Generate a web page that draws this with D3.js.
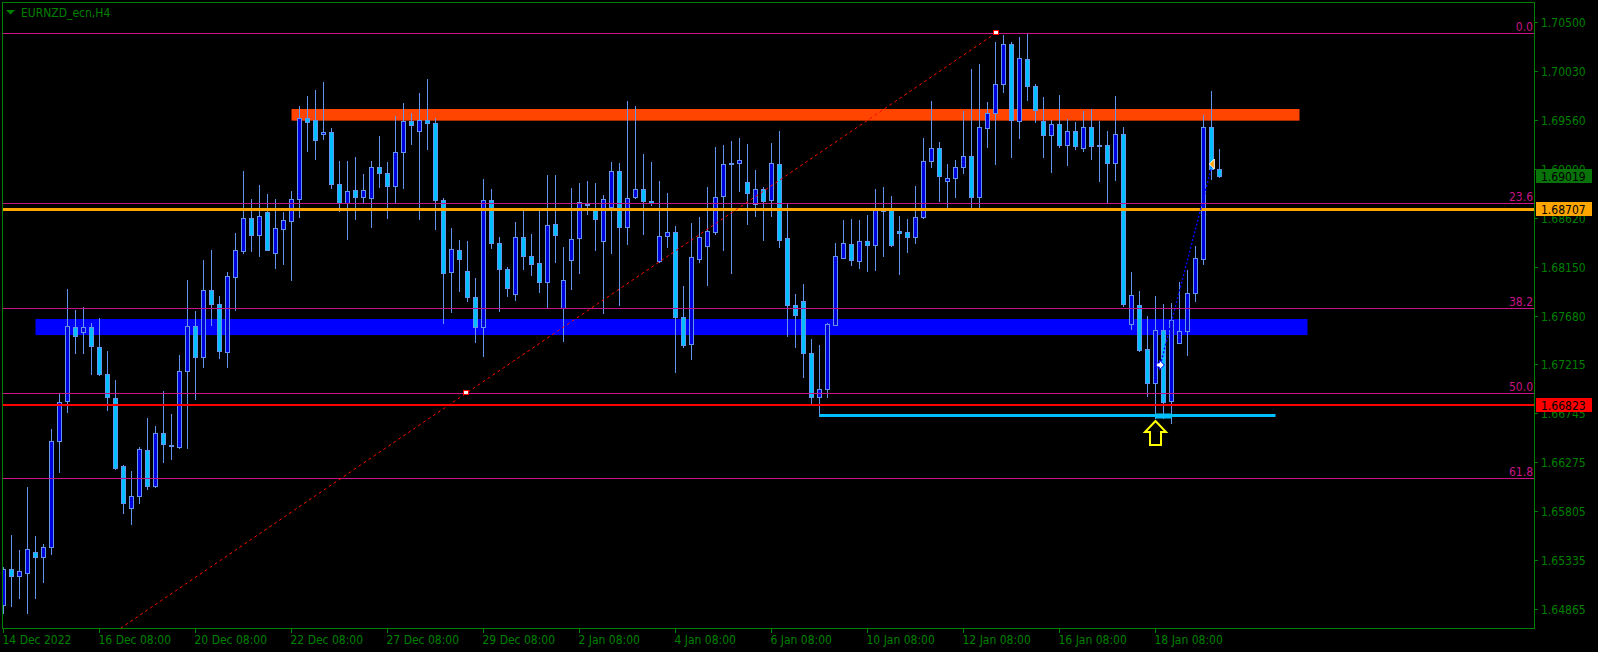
<!DOCTYPE html>
<html><head><meta charset="utf-8">
<script src="https://cdn.jsdelivr.net/npm/d3@7"></script>
<style>
html,body{margin:0;padding:0;background:#000;overflow:hidden}
svg{display:block}
text{font-family:"DejaVu Sans Condensed","DejaVu Sans",sans-serif;font-stretch:condensed;font-size:12px}
</style></head><body>
<svg id="c" width="1598" height="652"></svg>
<script>
const symbolTitle = "EURNZD_ecn,H4";
const opens = [1.64903,1.65248,1.65187,1.65216,1.65411,1.65364,1.65459,1.66476,1.66860,1.67569,1.67521,1.67569,1.67377,1.67118,1.66888,1.66236,1.65833,1.65949,1.66390,1.66044,
1.66553,1.66438,1.66418,1.67147,1.67579,1.67282,1.67924,1.67790,1.67329,1.68055,1.68304,1.68615,1.68457,1.68672,1.68279,1.68515,1.68592,1.68797,1.69574,1.69554,
1.69420,1.69439,1.68941,1.68764,1.68883,1.68816,1.68806,1.69104,1.69046,1.68921,1.69247,1.69545,1.69449,1.69554,1.69526,1.68787,1.68097,1.68308,1.68106,1.67857,
1.67569,1.68787,1.68380,1.68131,1.67891,1.68432,1.68250,1.68183,1.68007,1.68557,1.67757,1.68212,1.68423,1.68747,1.68707,1.68400,1.68726,1.69065,1.68528,1.68816,
1.68893,1.68778,1.68202,1.68442,1.68480,1.67671,1.67412,1.68227,1.68346,1.68486,1.68826,1.69132,1.69142,1.68960,1.68749,1.68893,1.68787,1.69132,1.68423,1.67786,
1.67819,1.67320,1.66904,1.66975,1.67594,1.68237,1.68365,1.68202,1.68394,1.68356,1.68701,1.68701,1.68490,1.68480,1.68432,1.68624,1.69161,1.69286,1.68969,1.68998,
1.69104,1.69209,1.68822,1.69478,1.69622,1.69900,1.70283,1.69545,1.70139,1.69880,1.69545,1.69411,1.69516,1.69315,1.69449,1.69286,1.69487,1.69305,1.69315,1.69142,
1.69420,1.67598,1.67780,1.67358,1.67038,1.67540,1.66865,1.67422,1.67531,1.67895,1.68227,1.69487,1.69087];
const highs = [1.65273,1.65577,1.65434,1.66038,1.65568,1.65488,1.66591,1.66930,1.67934,1.67735,1.67764,1.67608,1.67656,1.67342,1.67061,1.66246,1.66191,1.66421,1.66697,1.66620,
1.66955,1.66735,1.67301,1.68020,1.67723,1.68212,1.68311,1.67867,1.68097,1.68471,1.69068,1.68800,1.68934,1.68848,1.68800,1.68675,1.68876,1.69689,1.69785,1.69842,
1.69919,1.69478,1.69161,1.69161,1.69200,1.69037,1.69161,1.69401,1.69152,1.69593,1.69717,1.69622,1.69813,1.69950,1.69574,1.68806,1.68519,1.68404,1.68394,1.68039,
1.68991,1.68896,1.68432,1.68150,1.68576,1.68701,1.68467,1.68697,1.69030,1.69030,1.68342,1.68905,1.68953,1.68972,1.68953,1.68838,1.69152,1.69142,1.69737,1.69689,
1.69228,1.69152,1.68969,1.68854,1.68538,1.67962,1.68567,1.68624,1.68912,1.69295,1.69315,1.69353,1.69382,1.69324,1.69075,1.68912,1.69334,1.69449,1.68755,1.67886,
1.67982,1.67454,1.67399,1.67608,1.68375,1.68595,1.68605,1.68595,1.68643,1.68893,1.68912,1.68826,1.68634,1.68605,1.68921,1.69382,1.69737,1.69343,1.69132,1.69171,
1.69641,1.70043,1.70094,1.69727,1.70305,1.70372,1.70305,1.70353,1.70382,1.69900,1.69775,1.69554,1.69794,1.69564,1.69535,1.69641,1.69660,1.69545,1.69449,1.69785,
1.69487,1.68097,1.67914,1.67675,1.67867,1.67790,1.67799,1.68001,1.68119,1.68349,1.69602,1.69835,1.69276];
const lows = [1.64827,1.64896,1.64976,1.64827,1.64976,1.65130,1.65392,1.66184,1.66760,1.67326,1.67326,1.67124,1.67115,1.66779,1.66213,1.65791,1.65686,1.65887,1.66021,1.66038,
1.66280,1.66303,1.66411,1.66415,1.66885,1.67191,1.67594,1.67278,1.67191,1.67738,1.68285,1.68304,1.68256,1.68306,1.68141,1.68179,1.68026,1.68627,1.69263,1.69186,
1.69378,1.68902,1.68687,1.68419,1.68611,1.68758,1.68534,1.68918,1.68620,1.68774,1.68908,1.69330,1.68611,1.69282,1.68515,1.67613,1.67719,1.67920,1.67824,1.67431,
1.67297,1.68333,1.67728,1.67872,1.67834,1.68131,1.68074,1.67911,1.67767,1.68198,1.67441,1.67939,1.68093,1.68659,1.68313,1.67709,1.68285,1.67786,1.68371,1.68806,
1.68467,1.68745,1.68195,1.68342,1.67143,1.67383,1.67268,1.68198,1.67978,1.68467,1.68313,1.68093,1.68879,1.68563,1.68640,1.68409,1.68640,1.68342,1.67489,1.67383,
1.67096,1.66840,1.66722,1.66904,1.67591,1.68234,1.68170,1.68141,1.68112,1.68122,1.68256,1.68352,1.68083,1.68294,1.68380,1.68615,1.69104,1.68778,1.68691,1.68816,
1.69046,1.68726,1.68726,1.69301,1.69138,1.69829,1.69205,1.69388,1.69752,1.69535,1.69200,1.69061,1.69301,1.69129,1.69276,1.69263,1.69186,1.68975,1.68764,1.68985,
1.67774,1.67550,1.67345,1.66913,1.66697,1.66697,1.66649,1.67419,1.67301,1.67824,1.68179,1.68994,1.69013];
const closes = [1.65248,1.65187,1.65229,1.65440,1.65364,1.65459,1.66476,1.66850,1.67579,1.67483,1.67569,1.67387,1.67124,1.66898,1.66223,1.65887,1.65949,1.66399,1.66044,1.66553,
1.66447,1.66428,1.67147,1.67579,1.67282,1.67924,1.67790,1.67339,1.68058,1.68311,1.68615,1.68457,1.68634,1.68313,1.68519,1.68595,1.68797,1.69574,1.69535,1.69363,
1.69439,1.68941,1.68764,1.68875,1.68816,1.68883,1.69104,1.69046,1.68921,1.69247,1.69545,1.69506,1.69554,1.69526,1.68787,1.68093,1.68317,1.68221,1.67857,1.67569,
1.68787,1.68380,1.68131,1.67949,1.68432,1.68256,1.68179,1.68007,1.68547,1.68457,1.68020,1.68413,1.68768,1.68754,1.68611,1.68797,1.69065,1.68528,1.68806,1.68893,
1.68778,1.68764,1.68442,1.68480,1.67671,1.67402,1.68241,1.68432,1.68490,1.68816,1.69132,1.69142,1.69171,1.68854,1.68893,1.68778,1.69142,1.68409,1.67786,1.67690,
1.67320,1.66904,1.66978,1.67598,1.68250,1.68375,1.68212,1.68394,1.68356,1.68701,1.68689,1.68361,1.68471,1.68432,1.68624,1.69161,1.69286,1.69017,1.68998,1.69104,
1.69209,1.68822,1.69487,1.69622,1.69900,1.70283,1.69554,1.70149,1.69886,1.69650,1.69411,1.69516,1.69315,1.69449,1.69305,1.69487,1.69305,1.69315,1.69142,1.69420,
1.67796,1.67876,1.67352,1.67038,1.67540,1.66856,1.67636,1.67531,1.67895,1.68231,1.69487,1.69087,1.69019];

const xTickIndex = [0,12,24,36,48,60,72,84,96,108,120,132,144];
const xTickLabels = ["14 Dec 2022","16 Dec 08:00","20 Dec 08:00","22 Dec 08:00","27 Dec 08:00","29 Dec 08:00","2 Jan 08:00","4 Jan 08:00","6 Jan 08:00","10 Jan 08:00","12 Jan 08:00","16 Jan 08:00","18 Jan 08:00"];
const yTicks = [1.70500,1.70030,1.69560,1.69090,1.68620,1.68150,1.67680,1.67215,1.66745,1.66275,1.65805,1.65335,1.64865];

const fibHigh = {idx:124, price:1.70389};
const fibLow = {idx:-8.33, price:1.63485};
const fibLevels = [0, 23.6, 38.2, 50.0, 61.8];
const resistanceZone = {from:36, to:162, top:1.69663, bottom:1.69551};
const supportZone = {from:4, to:163, top:1.67649, bottom:1.67495};
const hLines = [{price:1.68707, color:"#ffa500", width:3}, {price:1.66823, color:"#ff0000", width:2}];
const lowLine = {from:102, to:159, price:1.66725};
const arrowMark = {idx:144, price:1.66680};
const trade = {openIdx:144.6, openPrice:1.67208, closeIdx:151.1, closePrice:1.69135};
const bidPrice = 1.69019;

const W = 1598, H = 652;
const plot = {l:3, t:3, r:1534, b:628};
const green = "#008000";
const fibColor = "#c71585";

const x = d3.scaleLinear().domain([0, 191]).range([3.5, 3.5 + 8 * 191]);
const y = d3.scaleLinear().domain([1.64865, 1.70500]).range([609.3, 21.7]);
const snap = v => Math.round(v) + 0.5;

const svg = d3.select("#c");
svg.append("rect").attr("width", W).attr("height", H).attr("fill", "#000");
svg.append("defs").append("clipPath").attr("id", "clip").append("rect")
  .attr("x", plot.l).attr("y", plot.t).attr("width", plot.r - plot.l).attr("height", plot.b - plot.t);
const g = svg.append("g").attr("clip-path", "url(#clip)");

// background zones
[[resistanceZone, "#ff4500"], [supportZone, "#0000ff"]].forEach(([z, col]) => {
  g.append("rect").attr("x", x(z.from)).attr("y", y(z.top))
    .attr("width", x(z.to) - x(z.from)).attr("height", y(z.bottom) - y(z.top)).attr("fill", col);
});

// candles
const data = opens.map((o, i) => ({i, o, h: highs[i], l: lows[i], c: closes[i]}));
g.append("g").selectAll("rect").data(data).join("rect")
  .attr("x", d => x(d.i) - 0.5).attr("width", 1)
  .attr("y", d => Math.round(y(d.h))).attr("height", d => Math.round(y(d.l)) - Math.round(y(d.h)) + 1)
  .attr("fill", "#6495ed");
g.append("g").selectAll("rect").data(data).join("rect")
  .attr("x", d => x(d.i) - 2).attr("width", 4)
  .attr("y", d => snap(Math.min(y(d.o), y(d.c))))
  .attr("height", d => Math.max(1, Math.round(Math.max(y(d.o), y(d.c))) - Math.round(Math.min(y(d.o), y(d.c)))))
  .attr("fill", d => d.c >= d.o ? "#0000dc" : "#00bfff")
  .attr("stroke", "#6495ed").attr("stroke-width", 1);

// fibonacci levels
const fibPrice = r => fibHigh.price - r / 100 * (fibHigh.price - fibLow.price);
fibLevels.forEach(r => {
  const yy = snap(y(fibPrice(r)));
  g.append("line").attr("x1", plot.l).attr("x2", plot.r).attr("y1", yy).attr("y2", yy)
    .attr("stroke", fibColor).attr("stroke-width", 1);
  svg.append("text").attr("x", 1533).attr("y", yy - 2.5).attr("text-anchor", "end")
    .attr("fill", fibColor).text(r.toFixed(1));
});

// horizontal lines
hLines.forEach(h => {
  const yy = Math.round(y(h.price)) + (h.width % 2 ? 0.5 : 0);
  g.append("line").attr("x1", plot.l).attr("x2", plot.r).attr("y1", yy).attr("y2", yy)
    .attr("stroke", h.color).attr("stroke-width", h.width);
});

// low line (cyan)
{
  const yy = Math.round(y(lowLine.price)) + 0.5;
  g.append("line").attr("x1", x(lowLine.from)).attr("x2", x(lowLine.to)).attr("y1", yy).attr("y2", yy)
    .attr("stroke", "#00bfff").attr("stroke-width", 3);
  g.append("rect").attr("x", x(arrowMark.idx) - 0.5).attr("y", yy - 2).attr("width", x(arrowMark.idx + 2) - x(arrowMark.idx) + 1)
    .attr("height", 5).attr("fill", "#00bfff");
}

// fib trendline
{
  const x1 = x(fibLow.idx), y1 = y(fibLow.price), x2 = x(fibHigh.idx), y2 = y(fibHigh.price);
  g.append("line").attr("x1", x1).attr("y1", y1).attr("x2", x2).attr("y2", y2)
    .attr("stroke", "#ff0000").attr("stroke-width", 1).attr("stroke-dasharray", "3,3");
  [[x2, y2], [(x1 + x2) / 2, (y1 + y2) / 2]].forEach(([px, py]) => {
    g.append("rect").attr("x", Math.round(px) - 2.5).attr("y", Math.round(py) - 2.5).attr("width", 5).attr("height", 4)
      .attr("fill", "#ffffff").attr("stroke", "#ff0000").attr("stroke-width", 1);
  });
}

// trade history
{
  const ox = x(trade.openIdx), oy = y(trade.openPrice), cx = x(trade.closeIdx), cy = y(trade.closePrice);
  g.append("line").attr("x1", ox).attr("y1", oy).attr("x2", cx).attr("y2", cy)
    .attr("stroke", "#0000ff").attr("stroke-width", 1.5).attr("stroke-dasharray", "2,2");
  g.append("path").attr("d", `M${ox-4},${oy-2} h3 v-3 l5,5 l-5,5 v-3 h-3 z`)
    .attr("fill", "#ffffff").attr("stroke", "#0000ff").attr("stroke-width", 1);
  g.append("path").attr("d", `M${cx-3},${cy} l5,-5 v10 z`)
    .attr("fill", "#ffa500").attr("stroke", "#ffffff").attr("stroke-width", 1);
}

// yellow arrow
{
  const ax = x(arrowMark.idx), ay = Math.round(y(arrowMark.price)) + 1;
  g.append("path").attr("d", `M${ax},${ay} L${ax+10.5},${ay+11} L${ax+5.5},${ay+11} L${ax+5.5},${ay+24} L${ax-5.5},${ay+24} L${ax-5.5},${ay+11} L${ax-10.5},${ay+11} Z`)
    .attr("fill", "none").attr("stroke", "#ffff00").attr("stroke-width", 2);
}

// frame
svg.append("rect").attr("x", 2.5).attr("y", 2.5).attr("width", 1532).attr("height", 626)
  .attr("fill", "none").attr("stroke", green).attr("stroke-width", 1);

// x axis
xTickIndex.forEach((idx, k) => {
  const xx = x(idx);
  svg.append("line").attr("x1", xx).attr("x2", xx).attr("y1", 629).attr("y2", 633).attr("stroke", green);
  svg.append("text").attr("x", xx - 1).attr("y", 644).attr("fill", green).text(xTickLabels[k]);
});

// y axis
yTicks.forEach(t => {
  const yy = snap(y(t));
  svg.append("line").attr("x1", 1535).attr("x2", 1538).attr("y1", yy).attr("y2", yy).attr("stroke", green);
  svg.append("text").attr("x", 1541).attr("y", yy + 4.4).attr("fill", green).text(t.toFixed(5));
});

// price boxes
[[bidPrice, "#087308"], [hLines[0].price, "#ffa500"], [hLines[1].price, "#ff0000"]].forEach(([p, col]) => {
  const yy = Math.round(y(p));
  svg.append("rect").attr("x", 1536).attr("y", yy - 7).attr("width", 56).attr("height", 14).attr("fill", col);
  svg.append("text").attr("x", 1541).attr("y", yy + 4.5).attr("fill", "#000").text(p.toFixed(5));
});

// title
svg.append("path").attr("d", "M6,10 L15,10 L10.5,14.5 Z").attr("fill", green);
svg.append("text").attr("x", 21).attr("y", 17).attr("fill", green).text(symbolTitle);
</script>
</body></html>
